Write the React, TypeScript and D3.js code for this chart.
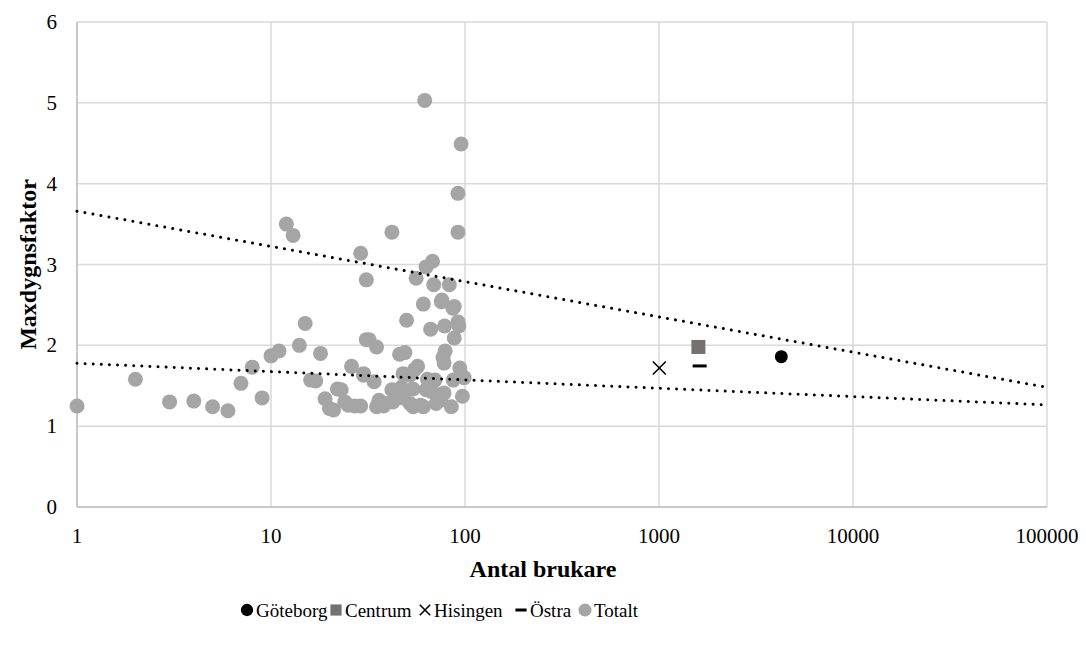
import React from "react";
import * as d3 from "d3";

// Per-area observations: number of users and max-day factor
const totaltX = [
  1, 2, 3, 4, 5, 6, 7, 8, 9, 10, 11, 12, 13, 14, 15, 16, 17, 18, 19, 20, 21, 22, 23, 24, 25, 26, 27,
  29, 29, 30, 30, 31, 31, 32, 34, 35, 35, 36, 38, 39, 42, 42, 42.5, 46, 47, 48, 48, 49, 50, 52, 52,
  54, 54, 55, 56, 57, 59, 61, 61, 62, 63, 63, 64, 66.5, 67, 68, 69, 70, 71, 74, 75, 76, 75.5, 77, 78,
  78, 78.5, 79, 83, 85, 86.6, 87, 88, 88, 92, 92, 92, 93, 94, 95.5, 96, 97, 99,
];
const totaltY = [
  1.25, 1.58, 1.3, 1.31, 1.24, 1.19, 1.53, 1.73, 1.35, 1.87, 1.93, 3.5, 3.36, 2.0, 2.27, 1.57, 1.56, 1.9,
  1.34, 1.22, 1.2, 1.46, 1.45, 1.3, 1.26, 1.74, 1.25, 3.14, 1.25, 1.65, 1.63, 2.81, 2.07, 2.07, 1.55,
  1.98, 1.24, 1.32, 1.25, 1.28, 3.4, 1.45, 1.3, 1.89, 1.48, 1.65, 1.35, 1.91, 2.31, 1.63, 1.28, 1.46,
  1.24, 1.7, 2.83, 1.74, 1.26, 2.51, 1.24, 5.03, 2.97, 1.45, 1.58, 2.2, 1.43, 3.04, 2.75, 1.57, 1.28,
  1.39, 1.32, 2.56, 2.54, 1.85, 1.78, 1.41, 2.24, 1.93, 2.75, 1.24, 2.46, 1.57, 2.48, 2.09, 3.88, 3.4,
  2.29, 2.24, 1.72, 4.49, 1.63, 1.37, 1.6,
];

// City-wide and district aggregates
const goteborg = { x: 4270, y: 1.86 };
const centrum = { x: 1596, y: 1.98 };
const hisingen = { x: 1004, y: 1.72 };
const ostra = { x: 1620, y: 1.745 };

// Logarithmic trend lines: y = intercept + slope * log10(x)
const trendIntercepts = [3.66, 1.778];
const trendSlopes = [-0.436, -0.103];

const xTicks = [1, 10, 100, 1000, 10000, 100000];
const yTicks = [0, 1, 2, 3, 4, 5, 6];

const W = 1086;
const H = 653;
const plot = { left: 77, right: 1047, top: 22, bottom: 507 };
const font = "'Liberation Serif', 'Times New Roman', serif";
const gridColor = "#d9d9d9";
const grey = "#a5a5a5";
const squareColor = "#767171";

export default function App() {
  const x = d3.scaleLog().domain([1, 100000]).range([plot.left, plot.right]);
  const y = d3.scaleLinear().domain([0, 6]).range([plot.bottom, plot.top]);

  const totalt = totaltX.map((v, i) => ({ x: v, y: totaltY[i] }));
  const trendSamples = d3.range(0, 5.0001, 0.05).map((e) => Math.pow(10, e));
  const line = d3.line<number>().x((d) => x(d));

  const legendY = 610;
  const legendItems = [
    { key: "circle", label: "Göteborg", sx: 247, tx: 256 },
    { key: "square", label: "Centrum", sx: 336, tx: 345 },
    { key: "cross", label: "Hisingen", sx: 425, tx: 434 },
    { key: "dash", label: "Östra", sx: 521, tx: 530 },
    { key: "grey", label: "Totalt", sx: 585, tx: 594 },
  ];

  const marker = (key: string, cx: number, cy: number, scale = 1) => {
    switch (key) {
      case "circle":
        return <circle cx={cx} cy={cy} r={6.5 * scale} fill="#000" />;
      case "square":
        return (
          <rect x={cx - 7 * scale} y={cy - 7 * scale} width={14 * scale} height={14 * scale} fill={squareColor} />
        );
      case "cross":
        return (
          <path
            d={`M${cx - 6.5 * scale},${cy - 6.5 * scale}L${cx + 6.5 * scale},${cy + 6.5 * scale}M${cx + 6.5 * scale},${cy - 6.5 * scale}L${cx - 6.5 * scale},${cy + 6.5 * scale}`}
            stroke="#000"
            strokeWidth={1.6}
          />
        );
      case "dash":
        return <rect x={cx - 7 * scale} y={cy - 1.5} width={14 * scale} height={3} fill="#000" />;
      default:
        return <circle cx={cx} cy={cy} r={7.5 * scale} fill={grey} />;
    }
  };

  return (
    <svg
      width={W}
      height={H}
      style={{ position: "absolute", left: 0, top: 0, background: "#fff" }}
      fontFamily={font}
    >
      <rect width={W} height={H} fill="#fff" />
      {/* grid */}
      {yTicks.map((t) => (
        <line key={"gy" + t} x1={plot.left} x2={plot.right} y1={y(t)} y2={y(t)} stroke={gridColor} strokeWidth={1.5} />
      ))}
      {xTicks.map((t) => (
        <line key={"gx" + t} x1={x(t)} x2={x(t)} y1={plot.top} y2={plot.bottom} stroke={gridColor} strokeWidth={1.5} />
      ))}
      <line x1={plot.left} x2={plot.left} y1={plot.top} y2={plot.bottom} stroke="#bfbfbf" strokeWidth={1.5} />
      <line x1={plot.left} x2={plot.right} y1={plot.bottom} y2={plot.bottom} stroke="#bfbfbf" strokeWidth={1.5} />

      {/* tick labels */}
      {yTicks.map((t) => (
        <text key={"ly" + t} x={57} y={y(t)} dy="0.34em" textAnchor="end" fontSize={21} fill="#000">
          {t}
        </text>
      ))}
      {xTicks.map((t) => (
        <text key={"lx" + t} x={x(t)} y={543} textAnchor="middle" fontSize={21} fill="#000">
          {t}
        </text>
      ))}

      {/* axis titles */}
      <text x={543} y={577} textAnchor="middle" fontSize={24} fontWeight="bold">
        Antal brukare
      </text>
      <text
        transform={`translate(36,${(plot.top + plot.bottom) / 2}) rotate(-90)`}
        textAnchor="middle"
        fontSize={24}
        fontWeight="bold"
      >
        Maxdygnsfaktor
      </text>

      {/* Totalt points */}
      {totalt.map((d, i) => (
        <circle key={"t" + i} cx={x(d.x)} cy={y(d.y)} r={7.5} fill={grey} />
      ))}

      {/* aggregates */}
      {marker("circle", x(goteborg.x), y(goteborg.y))}
      {marker("square", x(centrum.x), y(centrum.y))}
      {marker("cross", x(hisingen.x), y(hisingen.y))}
      {marker("dash", x(ostra.x), y(ostra.y))}

      {/* trend lines */}
      {trendIntercepts.map((b, i) => (
        <path
          key={"tr" + i}
          d={line.y((v) => y(b + trendSlopes[i] * Math.log10(v)))(trendSamples) || ""}
          fill="none"
          stroke="#000"
          strokeWidth={3}
          strokeLinecap="round"
          strokeDasharray="0.01 8.1"
        />
      ))}

      {/* legend */}
      {legendItems.map((it) => (
        <g key={it.key}>
          {marker(it.key, it.sx, legendY, it.key === "grey" ? 0.87 : it.key === "circle" ? 0.95 : 0.8)}
          <text x={it.tx} y={legendY} dy="0.35em" fontSize={19} fill="#000">
            {it.label}
          </text>
        </g>
      ))}
    </svg>
  );
}
